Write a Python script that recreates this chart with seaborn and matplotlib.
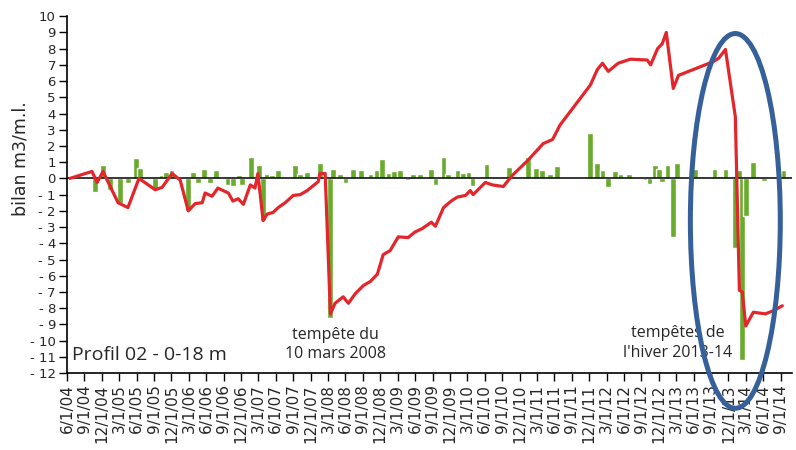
import numpy as np
import pandas as pd
import matplotlib
matplotlib.use("Agg")
import matplotlib.pyplot as plt
from matplotlib.patches import Ellipse
import seaborn as sns

# courbe rouge : bilan cumule (mois apres le 1/6/2004, m3/m.l.)
bilan_mois = [0.5, 4.3, 5.2, 6.2, 8.8, 10.5, 12.4, 15.2, 16.4, 18.1,
              19.5, 20.9, 22.1, 23.3, 23.8, 25.0, 26.0, 27.8, 28.6, 29.5,
              30.4, 31.6, 32.4, 32.9, 33.8, 34.5, 35.5, 36.4, 37.6, 39.0,
              40.2, 41.4, 43.3, 43.6, 44.5, 45.4, 46.2, 47.6, 48.5, 49.7,
              51.1, 52.3, 53.5, 54.5, 55.7, 57.1, 58.8, 60.0, 61.2, 62.8,
              63.5, 64.9, 65.7, 66.4, 67.3, 68.7, 69.5, 70.0, 72.1, 73.3,
              75.2, 76.8, 79.4, 82.1, 83.7, 85.0, 90.2, 91.4, 92.3, 93.3,
              95.0, 97.1, 100.0, 100.6, 101.8, 102.6, 103.3, 104.5, 105.4, 111.4,
              112.3, 113.5, 115.2, 115.9, 116.4, 117.0, 118.3, 120.4, 121.8, 123.3]
bilan_cumul = [0.0, 0.43, -0.25, 0.43, -1.5, -1.8, 0.0, -0.7, -0.55, 0.3,
               -0.1, -2.0, -1.55, -1.5, -0.9, -1.1, -0.6, -0.9, -1.4, -1.25,
               -1.6, -0.4, -0.6, 0.3, -2.6, -2.2, -2.1, -1.8, -1.5, -1.05,
               -1.0, -0.75, -0.2, 0.3, 0.3, -8.35, -7.7, -7.3, -7.7, -7.1,
               -6.6, -6.35, -5.9, -4.7, -4.45, -3.6, -3.65, -3.3, -3.1, -2.7,
               -2.95, -1.8, -1.55, -1.35, -1.15, -1.05, -0.75, -1.0, -0.25, -0.4,
               -0.5, 0.2, 1.1, 2.15, 2.4, 3.3, 5.75, 6.7, 7.1, 6.6,
               7.1, 7.35, 7.3, 7.0, 8.0, 8.3, 9.0, 5.55, 6.35, 7.2,
               7.4, 7.95, 3.8, -6.9, -7.0, -9.1, -8.25, -8.35, -8.15, -7.85]

# barres vertes : bilan entre deux leves
ecart_mois = [4.8, 6.2, 7.4, 9.1, 10.5, 11.9, 12.6, 15.2, 16.4, 17.1,
              18.0, 20.9, 21.7, 22.6, 23.6, 24.7, 25.7, 27.8, 28.6, 29.7,
              30.2, 31.7, 33.1, 33.8, 34.5, 35.4, 36.4, 39.3, 40.2, 41.4,
              43.6, 45.4, 45.9, 47.1, 48.0, 49.3, 50.7, 52.3, 53.5, 54.3,
              55.4, 56.4, 57.4, 58.7, 59.7, 60.9, 62.8, 63.5, 64.9, 65.7,
              67.3, 68.3, 69.2, 69.9, 72.3, 73.3, 75.2, 76.2, 79.5, 80.9,
              81.9, 83.3, 84.4, 90.2, 91.3, 92.3, 93.2, 94.5, 95.4, 96.9,
              98.8, 99.7, 100.4, 101.4, 102.1, 102.6, 103.5, 104.4, 105.2, 108.3,
              111.6, 112.5, 113.5, 115.2, 115.9, 116.3, 117.1, 118.3, 120.2, 123.5]
ecart_val = [-0.85, 0.8, -0.7, -1.5, -0.3, 1.25, 0.65, -0.7, 0.2, 0.4,
             0.5, -2.0, 0.4, -0.3, 0.6, -0.3, 0.5, -0.4, -0.45, 0.2,
             -0.4, 1.35, 0.85, -2.6, 0.3, 0.2, 0.5, 0.8, 0.25, 0.4,
             0.95, -8.6, 0.55, 0.3, -0.3, 0.6, 0.5, 0.3, 0.5, 1.2,
             0.35, 0.45, 0.5, -0.1, 0.3, 0.3, 0.6, -0.4, 1.3, 0.3,
             0.5, 0.35, 0.4, -0.45, 0.9, 0.1, 0.1, 0.7, 1.3, 0.65,
             0.5, 0.25, 0.75, 2.8, 0.95, 0.5, -0.5, 0.45, 0.3, 0.25,
             0.1, -0.1, -0.35, 0.85, 0.55, -0.2, 0.85, -3.6, 0.95, 0.6,
             0.6, 0.15, 0.6, -4.3, 0.5, -11.2, -2.3, 1.0, -0.15, 0.5]

tick_dates = pd.date_range("2004-06-01", "2014-09-01", freq="3MS")
tick_labels = [f"{d.month}/1/{d.year % 100:02d}" for d in tick_dates]
tick_mois = [(d.year - 2004) * 12 + d.month - 6 for d in tick_dates]
y_ticks = list(range(-12, 11))

sns.set_style("ticks")
plt.rcParams["font.family"] = ["DejaVu Sans"]

fig = plt.figure(figsize=(7.96, 4.5), dpi=100)
ax = fig.add_axes([0.0842, 0.171, 0.911, 0.793])

ax.bar(ecart_mois, ecart_val, width=1.0, color="#69ab2c", zorder=2)
ax.axhline(0, color="black", lw=1.1, zorder=3)
sns.lineplot(x=bilan_mois, y=bilan_cumul, color="#e3262b", lw=2.3, ax=ax, zorder=4)

ax.set_xlim(0, 125)
ax.set_ylim(-12, 10)
ax.set_xticks(tick_mois)
ax.set_xticklabels(tick_labels, rotation=90, fontsize=11)
ax.set_yticks(y_ticks)
ax.set_yticklabels([f"- {abs(v)}" if v < 0 else str(v) for v in y_ticks], fontsize=9.5)
ax.tick_params(axis="both", direction="out", length=6, width=1, color="black", pad=2)

sns.despine(ax=ax)
for s in ["left", "bottom"]:
    ax.spines[s].set_color("black")
    ax.spines[s].set_linewidth(1.2)

ax.set_ylabel("bilan m3/m.l.", fontsize=12.5)
ax.yaxis.set_label_coords(-0.052, 0.6)

ax.text(0.9, -10.9, "Profil 02 - 0-18 m", fontsize=14, family="Open Sans",
        va="center", ha="left")
ax.text(46.2, -10.25, "tempête du\n10 mars 2008", fontsize=11.5, family="Open Sans",
        ha="center", va="center", linespacing=1.3)
ax.text(105.2, -10.15, "tempêtes de\nl'hiver 2013-14", fontsize=11.5, family="Open Sans",
        ha="center", va="center", linespacing=1.3)

ax.add_patch(Ellipse((115.2, -2.62), width=15.5, height=23.1, fill=False,
                     edgecolor="#36609a", lw=3.6, clip_on=False, zorder=6))

fig.savefig("out.png", dpi=100)
